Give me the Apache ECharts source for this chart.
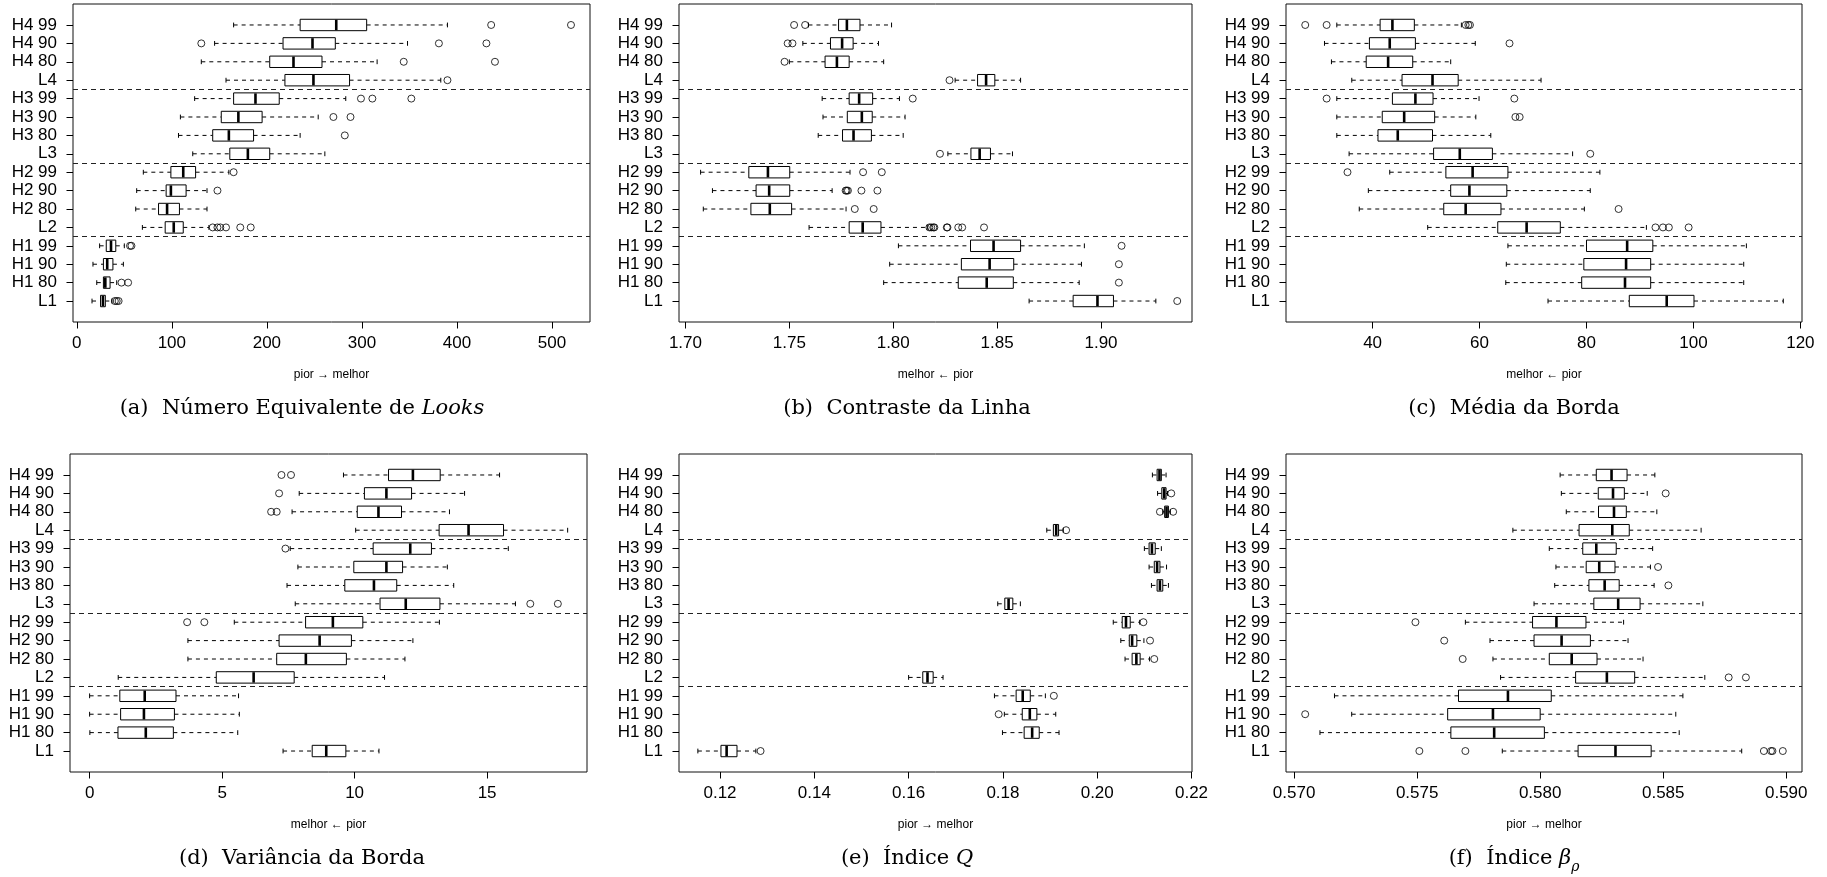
<!DOCTYPE html>
<html>
<head>
<meta charset="utf-8">
<script src="https://cdn.jsdelivr.net/npm/echarts@6/dist/echarts.min.js"></script>
<style>
  html, body { margin: 0; padding: 0; background: #fff; }
  #chart { width: 1827px; height: 877px; }
</style>
</head>
<body>
<div id="chart"></div>
<script>
// Row labels, listed from the top row of each panel down to the bottom one
const rowLabels = ['H4 99', 'H4 90', 'H4 80', 'L4', 'H3 99', 'H3 90', 'H3 80', 'L3',
                   'H2 99', 'H2 90', 'H2 80', 'L2', 'H1 99', 'H1 90', 'H1 80', 'L1'];

// Box statistics per row: [lower whisker, Q1, median, Q3, upper whisker]
// (a) Número Equivalente de Looks
const nelBoxes = [
  [165, 235, 273, 305, 390], [145, 217, 248, 272, 348], [131, 203, 228, 258, 316], [157, 219, 249, 287, 383],
  [124, 165, 188, 213, 283], [109, 152, 170, 195, 254], [107, 143, 160, 186, 235], [122, 161, 180, 203, 261],
  [70, 99, 112, 125, 160], [63, 94, 99, 115, 137], [62, 86, 95, 108, 137], [69, 93, 102, 112, 139],
  [24, 31, 36, 41, 50], [17, 28, 32, 38, 49], [21, 28, 30, 35, 42], [16, 25, 27.5, 30, 37]
];
const nelOutliers = [
  [436, 520], [131, 381, 431], [344, 440], [390],
  [299, 311, 352], [270, 288], [282], [],
  [165], [148], [], [143, 148, 151, 157, 172, 183],
  [56, 57.5], [], [47, 54], [40, 42, 44]
];
const nelRange = [-4, 540];
const nelTicks = [0, 100, 200, 300, 400, 500];

// (b) Contraste da Linha
const contrastBoxes = [
  [1.7592, 1.7737, 1.7777, 1.7840, 1.7992], [1.7565, 1.7698, 1.7754, 1.7807, 1.7929],
  [1.7500, 1.7672, 1.7729, 1.7788, 1.7954], [1.8298, 1.8406, 1.8447, 1.8489, 1.8613],
  [1.7658, 1.7788, 1.7836, 1.7901, 1.8030], [1.7662, 1.7779, 1.7849, 1.7899, 1.8057],
  [1.7639, 1.7756, 1.7809, 1.7895, 1.8048], [1.8263, 1.8374, 1.8416, 1.8468, 1.8574],
  [1.7073, 1.7305, 1.7397, 1.7502, 1.7792], [1.7130, 1.7340, 1.7403, 1.7502, 1.7706],
  [1.7086, 1.7315, 1.7406, 1.7511, 1.7773], [1.7595, 1.7788, 1.7853, 1.7941, 1.8164],
  [1.8025, 1.8372, 1.8483, 1.8613, 1.8920], [1.7983, 1.8328, 1.8464, 1.8580, 1.8906],
  [1.7954, 1.8313, 1.8450, 1.8578, 1.8895], [1.8654, 1.8866, 1.8983, 1.9060, 1.9264]
];
const contrastOutliers = [
  [1.7523, 1.7576], [1.7492, 1.7515], [1.7477], [1.8271],
  [1.8094], [], [], [1.8225],
  [1.7855, 1.7945], [1.7771, 1.7776, 1.7782, 1.7847, 1.7924], [1.7815, 1.7906],
  [1.8174, 1.8183, 1.8193, 1.8198, 1.8258, 1.8261, 1.8313, 1.8332, 1.8437],
  [1.9099], [1.9086], [1.9086], [1.9367]
];
const contrastRange = [1.6969, 1.9438];
const contrastTicks = [1.70, 1.75, 1.80, 1.85, 1.90];

// (c) Média da Borda
const edgeMeanBoxes = [
  [33.3, 41.4, 43.7, 47.8, 56.6], [31.0, 39.4, 43.2, 48.0, 59.2], [32.3, 38.8, 42.9, 47.5, 54.6], [36.1, 45.5, 51.2, 56.0, 71.5],
  [33.3, 43.7, 48.0, 51.3, 59.9], [33.3, 41.8, 45.9, 51.6, 59.3], [33.3, 41.0, 44.7, 51.2, 62.1], [35.6, 51.4, 56.3, 62.4, 77.4],
  [43.2, 53.7, 58.7, 65.3, 82.5], [39.2, 54.6, 58.1, 65.1, 80.7], [37.5, 53.3, 57.4, 64.0, 79.6], [50.3, 63.4, 68.8, 75.1, 91.2],
  [65.3, 80.0, 87.6, 92.4, 109.9], [65.0, 79.5, 87.4, 92.0, 109.4], [64.9, 79.1, 87.2, 92.0, 109.4], [72.8, 88.0, 95.0, 100.1, 116.8]
];
const edgeMeanOutliers = [
  [27.4, 31.4, 57.4, 57.9, 58.2], [65.6], [], [],
  [31.4, 66.5], [66.7, 67.5], [], [80.7],
  [35.3], [], [86.0], [92.9, 94.3, 95.4, 99.1],
  [], [], [], []
];
const edgeMeanRange = [23.8, 120.3];
const edgeMeanTicks = [40, 60, 80, 100, 120];

// (d) Variância da Borda
const edgeVarBoxes = [
  [9.58, 11.28, 12.2, 13.23, 15.47], [7.91, 10.37, 11.2, 12.15, 14.15], [7.64, 10.1, 10.9, 11.77, 13.58], [10.04, 13.19, 14.3, 15.62, 18.04],
  [7.57, 10.7, 12.1, 12.9, 15.8], [7.86, 9.97, 11.2, 11.81, 13.5], [7.45, 9.63, 10.73, 11.59, 13.74], [7.76, 10.96, 11.93, 13.22, 16.07],
  [5.46, 8.15, 9.18, 10.31, 13.2], [3.71, 7.15, 8.68, 9.88, 12.2], [3.71, 7.06, 8.16, 9.69, 11.9], [1.08, 4.78, 6.19, 7.72, 11.13],
  [0, 1.14, 2.08, 3.26, 5.62], [0, 1.17, 2.05, 3.2, 5.65], [0.01, 1.07, 2.12, 3.16, 5.59], [7.3, 8.4, 8.93, 9.67, 10.92]
];
const edgeVarOutliers = [
  [7.24, 7.6], [7.15], [6.85, 7.06], [],
  [7.39], [], [], [16.63, 17.67],
  [3.68, 4.33], [], [], [],
  [], [], [], []
];
const edgeVarRange = [-0.74, 18.77];
const edgeVarTicks = [0, 5, 10, 15];

// (e) Índice Q
const qBoxes = [
  [0.2117, 0.2127, 0.2132, 0.2136, 0.2146], [0.2128, 0.2137, 0.2142, 0.2146, 0.2149],
  [0.2139, 0.2143, 0.2147, 0.2151, 0.2155], [0.1893, 0.1907, 0.1913, 0.1918, 0.1928],
  [0.2100, 0.2110, 0.2116, 0.2123, 0.2136], [0.2110, 0.2121, 0.2127, 0.2133, 0.2147],
  [0.2115, 0.2127, 0.2133, 0.2139, 0.2151], [0.1789, 0.1804, 0.1812, 0.1821, 0.1837],
  [0.2034, 0.2053, 0.2061, 0.2070, 0.2090], [0.2050, 0.2068, 0.2074, 0.2084, 0.2099],
  [0.2059, 0.2074, 0.2083, 0.2091, 0.2111], [0.1600, 0.1630, 0.1640, 0.1652, 0.1673],
  [0.1782, 0.1828, 0.1842, 0.1858, 0.1890], [0.1803, 0.1841, 0.1857, 0.1872, 0.1912],
  [0.1799, 0.1845, 0.1862, 0.1877, 0.1919], [0.1153, 0.1202, 0.1214, 0.1236, 0.1276]
];
const qOutliers = [
  [], [0.2157], [0.2133, 0.2161], [0.1934],
  [], [], [], [],
  [0.2098], [0.2112], [0.2121], [],
  [0.1908], [0.1791], [], [0.1286]
];
const qRange = [0.1113, 0.2201];
const qTicks = [0.12, 0.14, 0.16, 0.18, 0.20, 0.22];

// (f) Índice beta-rho
const betaBoxes = [
  [0.58081, 0.58228, 0.58290, 0.58353, 0.58466], [0.58086, 0.58236, 0.58296, 0.58342, 0.58435],
  [0.58106, 0.58237, 0.58300, 0.58350, 0.58474], [0.57889, 0.58158, 0.58293, 0.58362, 0.58654],
  [0.58037, 0.58173, 0.58228, 0.58309, 0.58457], [0.58064, 0.58187, 0.58240, 0.58304, 0.58448],
  [0.58059, 0.58198, 0.58262, 0.58321, 0.58463], [0.57975, 0.58218, 0.58317, 0.58406, 0.58661],
  [0.57696, 0.57969, 0.58066, 0.58186, 0.58339], [0.57796, 0.57975, 0.58087, 0.58204, 0.58357],
  [0.57808, 0.58037, 0.58128, 0.58231, 0.58418], [0.57839, 0.58144, 0.58271, 0.58384, 0.58669],
  [0.57164, 0.57668, 0.57869, 0.58045, 0.58580], [0.57234, 0.57624, 0.57808, 0.58000, 0.58551],
  [0.57105, 0.57637, 0.57813, 0.58017, 0.58565], [0.57846, 0.58154, 0.58306, 0.58451, 0.58819]
];
const betaOutliers = [
  [], [0.5851], [], [],
  [], [0.58479], [0.58521], [],
  [0.57493], [0.5761], [0.57685], [0.58766, 0.58836],
  [], [0.57045], [], [0.57509, 0.57696, 0.58909, 0.58938, 0.58944, 0.58986]
];
const betaRange = [0.56967, 0.59064];
const betaTicks = [0.570, 0.575, 0.580, 0.585, 0.590];

// Axis titles and captions
const worseToBetter = 'pior \u2192 melhor';
const betterFromWorse = 'melhor \u2190 pior';
const captions = [
  '(a)  Número Equivalente de {i|Looks}',
  '(b)  Contraste da Linha',
  '(c)  Média da Borda',
  '(d)  Variância da Borda',
  '(e)  Índice {i|Q}',
  '(f)  Índice {i|β}{s|ρ}'
];

// Group separators sit between rows 4|5, 8|9 and 12|13 (counted from the bottom)
const groupBreaks = [4.5, 8.5, 12.5];

const panels = [
  { boxes: nelBoxes, outliers: nelOutliers, range: nelRange, ticks: nelTicks, decimals: 0, axisName: worseToBetter },
  { boxes: contrastBoxes, outliers: contrastOutliers, range: contrastRange, ticks: contrastTicks, decimals: 2, axisName: betterFromWorse },
  { boxes: edgeMeanBoxes, outliers: edgeMeanOutliers, range: edgeMeanRange, ticks: edgeMeanTicks, decimals: 0, axisName: betterFromWorse },
  { boxes: edgeVarBoxes, outliers: edgeVarOutliers, range: edgeVarRange, ticks: edgeVarTicks, decimals: 0, axisName: betterFromWorse },
  { boxes: qBoxes, outliers: qOutliers, range: qRange, ticks: qTicks, decimals: 2, axisName: worseToBetter },
  { boxes: betaBoxes, outliers: betaOutliers, range: betaRange, ticks: betaTicks, decimals: 3, axisName: worseToBetter }
];

// Plot frames in pixels: [left, top, width, height]
const frames = [
  [73, 4, 517, 318], [679, 4, 513, 318], [1286, 4, 516, 318],
  [70, 454, 517, 318], [679, 454, 513, 318], [1286, 454, 516, 318]
];
// Caption centres [x, y]
const captionPos = [
  [302, 409], [907, 409], [1514, 409],
  [302, 859], [907, 859], [1514, 859]
];

const nRows = rowLabels.length;
const rowPos = rowLabels.map((_, i) => nRows - i);   // top row gets the largest value
const labelAt = v => rowLabels[nRows - Math.round(v)];
const SANS = 'Liberation Sans, Arial, sans-serif';
const SERIF = 'DejaVu Serif, serif';
const INK = '#000';

function renderBox(params, api) {
  const y = api.value(0);
  const lo = api.coord([api.value(1), y]);
  const q1 = api.coord([api.value(2), y]);
  const md = api.coord([api.value(3), y]);
  const q3 = api.coord([api.value(4), y]);
  const hi = api.coord([api.value(5), y]);
  const rowPx = Math.abs(api.size([0, 1])[1]);
  const half = rowPx * 0.31;
  const cap = rowPx * 0.13;
  const cy = md[1];
  const dashed = { stroke: INK, lineWidth: 1, lineDash: [4, 4] };
  const solid = { stroke: INK, lineWidth: 1 };
  return {
    type: 'group',
    children: [
      { type: 'line', shape: { x1: lo[0], y1: cy, x2: q1[0], y2: cy }, style: dashed },
      { type: 'line', shape: { x1: q3[0], y1: cy, x2: hi[0], y2: cy }, style: dashed },
      { type: 'line', shape: { x1: lo[0], y1: cy - cap, x2: lo[0], y2: cy + cap }, style: solid },
      { type: 'line', shape: { x1: hi[0], y1: cy - cap, x2: hi[0], y2: cy + cap }, style: solid },
      { type: 'rect', shape: { x: q1[0], y: cy - half, width: q3[0] - q1[0], height: 2 * half },
        style: { fill: '#fff', stroke: INK, lineWidth: 1 } },
      { type: 'line', shape: { x1: md[0], y1: cy - half + 0.5, x2: md[0], y2: cy + half - 0.5 },
        style: { stroke: INK, lineWidth: 2.6 } }
    ]
  };
}

const grid = [], xAxis = [], yAxis = [], series = [];
panels.forEach((p, k) => {
  const f = frames[k];
  grid.push({
    left: f[0], top: f[1], width: f[2], height: f[3],
    show: true, borderColor: '#111', borderWidth: 1, backgroundColor: 'transparent'
  });
  xAxis.push({
    gridIndex: k, type: 'value', min: p.range[0], max: p.range[1], position: 'bottom',
    axisLine: { show: false, onZero: false }, splitLine: { show: false },
    axisTick: { show: true, customValues: p.ticks, length: 6.5, lineStyle: { color: INK, width: 1 } },
    axisLabel: {
      customValues: p.ticks, formatter: v => Number(v).toFixed(p.decimals),
      fontSize: 17, color: INK, fontFamily: SANS, margin: 13
    },
    name: p.axisName, nameLocation: 'middle', nameGap: 47,
    nameTextStyle: { fontSize: 12, color: INK, fontFamily: SANS }
  });
  yAxis.push({
    gridIndex: k, type: 'value', min: -0.14, max: nRows + 1.14, position: 'left',
    axisLine: { show: false, onZero: false }, splitLine: { show: false },
    axisTick: { show: true, customValues: rowPos, length: 6.5, lineStyle: { color: INK, width: 1 } },
    axisLabel: {
      customValues: rowPos, formatter: v => labelAt(v),
      fontSize: 17, color: INK, fontFamily: SANS, margin: 16
    }
  });
  series.push({
    type: 'custom', xAxisIndex: k, yAxisIndex: k,
    renderItem: renderBox,
    encode: { x: [1, 2, 3, 4, 5], y: 0 },
    data: p.boxes.map((b, i) => [rowPos[i]].concat(b)),
    silent: true, z: 3
  });
  const pts = [];
  p.outliers.forEach((vals, i) => vals.forEach(v => pts.push([v, rowPos[i]])));
  series.push({
    type: 'scatter', xAxisIndex: k, yAxisIndex: k,
    data: pts, symbol: 'circle', symbolSize: 7,
    itemStyle: { color: 'transparent', borderColor: INK, borderWidth: 1 },
    silent: true, z: 4,
    markLine: {
      silent: true, symbol: 'none', animation: false,
      label: { show: false },
      lineStyle: { color: '#222', width: 1.2, type: [5, 4] },
      data: groupBreaks.map(v => ({ yAxis: v }))
    }
  });
});

const graphic = captions.map((text, k) => ({
  type: 'text', x: captionPos[k][0], y: captionPos[k][1],
  style: {
    text: text, align: 'center', verticalAlign: 'middle',
    fontFamily: SERIF, fontSize: 21, fill: INK, lineHeight: 30,
    rich: {
      i: { fontFamily: SERIF, fontSize: 21, fontStyle: 'italic', fill: INK, lineHeight: 30 },
      s: { fontFamily: SERIF, fontSize: 14, fontStyle: 'italic', fill: INK, lineHeight: 14, verticalAlign: 'bottom' }
    }
  }
}));

const chart = echarts.init(document.getElementById('chart'), null, { renderer: 'canvas' });
chart.setOption({
  animation: false,
  backgroundColor: '#fff',
  grid, xAxis, yAxis, series, graphic
});
</script>
</body>
</html>
